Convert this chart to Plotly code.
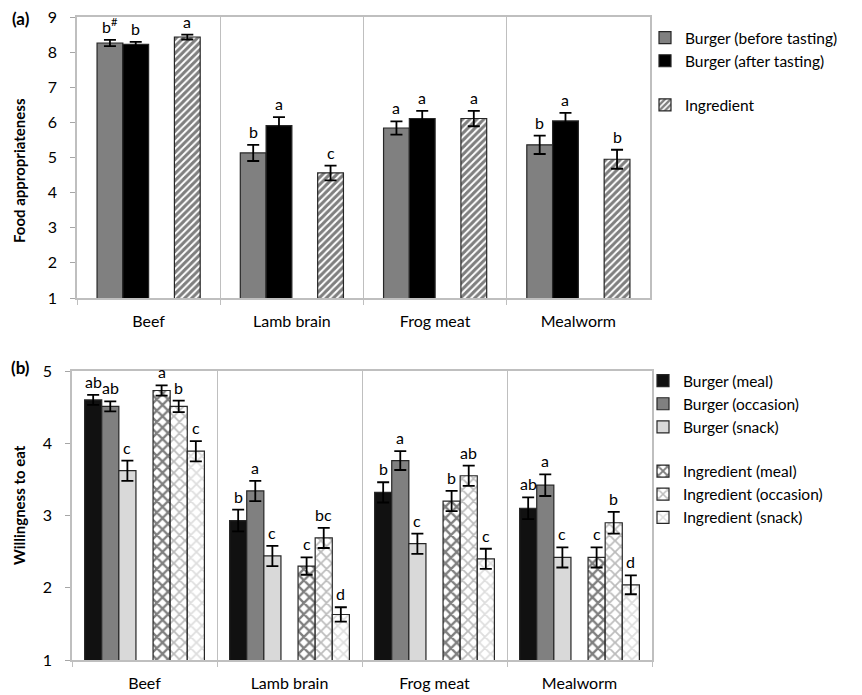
import plotly.graph_objects as go

categories = ["Beef", "Lamb brain", "Frog meat", "Mealworm"]

# (a) Food appropriateness (mean, standard error, significance letters)
fa_before = [8.26, 5.13, 5.84, 5.36]
fa_before_err = [0.09, 0.23, 0.19, 0.26]
fa_before_letters = ["b<sup>#</sup>", "b", "a", "b"]

fa_after = [8.22, 5.91, 6.11, 6.04]
fa_after_err = [0.07, 0.24, 0.22, 0.23]
fa_after_letters = ["b", "a", "a", "a"]

fa_ingredient = [8.43, 4.56, 6.11, 4.95]
fa_ingredient_err = [0.07, 0.21, 0.22, 0.27]
fa_ingredient_letters = ["a", "c", "a", "b"]

# (b) Willingness to eat
wte_burger_meal = [4.60, 2.93, 3.32, 3.10]
wte_burger_meal_err = [0.07, 0.15, 0.14, 0.15]
wte_burger_meal_letters = ["ab", "b", "b", "ab"]

wte_burger_occasion = [4.51, 3.34, 3.76, 3.42]
wte_burger_occasion_err = [0.07, 0.14, 0.13, 0.15]
wte_burger_occasion_letters = ["ab", "a", "a", "a"]

wte_burger_snack = [3.62, 2.44, 2.61, 2.42]
wte_burger_snack_err = [0.14, 0.14, 0.14, 0.14]
wte_burger_snack_letters = ["c", "c", "c", "c"]

wte_ing_meal = [4.73, 2.30, 3.20, 2.42]
wte_ing_meal_err = [0.07, 0.12, 0.14, 0.14]
wte_ing_meal_letters = ["a", "c", "b", "c"]

wte_ing_occasion = [4.51, 2.69, 3.55, 2.90]
wte_ing_occasion_err = [0.08, 0.14, 0.14, 0.15]
wte_ing_occasion_letters = ["b", "bc", "ab", "b"]

wte_ing_snack = [3.89, 1.63, 2.40, 2.04]
wte_ing_snack_err = [0.14, 0.10, 0.14, 0.13]
wte_ing_snack_letters = ["c", "d", "c", "d"]

W, H = 862, 695
FONT = "Lato"
GRID = "#bfbfbf"
TXT = "#000000"


def px(v):
    return v / W


def py(v):
    return 1 - v / H


fig = go.Figure()
annotations = []


def add_series(name, values, errors, letters, slot, slot_w, start, xa, ya,
               legend, group, color, pattern=None):
    offset = start + slot * slot_w
    marker = dict(color=color, line=dict(color="#262626", width=1.2))
    if pattern is not None:
        marker["pattern"] = pattern
    fig.add_trace(go.Bar(
        name=name, x=categories, y=values,
        offset=offset, width=slot_w,
        marker=marker,
        error_y=dict(type="data", array=errors, visible=True,
                     color="#000000", thickness=1.8, width=6),
        xaxis=xa, yaxis=ya, legend=legend, legendgroup=group,
    ))
    for i, (v, e, t) in enumerate(zip(values, errors, letters)):
        annotations.append(dict(
            x=i + offset + slot_w / 2, y=v + e, xref=xa, yref=ya,
            text=t, showarrow=False, yanchor="bottom", yshift=2,
            font=dict(family=FONT, size=16, color=TXT),
        ))


# panel (a): four slots per category, the third one left empty
A_SLOT, A_START = 0.18, -0.36
add_series("Burger (before tasting)", fa_before, fa_before_err, fa_before_letters,
           0, A_SLOT, A_START, "x", "y", "legend", "burger", "#808080")
add_series("Burger (after tasting)", fa_after, fa_after_err, fa_after_letters,
           1, A_SLOT, A_START, "x", "y", "legend", "burger", "#000000")
add_series("Ingredient", fa_ingredient, fa_ingredient_err, fa_ingredient_letters,
           3, A_SLOT, A_START, "x", "y", "legend", "ingredient", "#ffffff",
           dict(shape="/", fgcolor="#000000", bgcolor="#ffffff", size=5, solidity=0.6))

# panel (b): seven slots per category, the fourth one left empty
B_SLOT, B_START = 0.118, -0.413
add_series("Burger (meal)", wte_burger_meal, wte_burger_meal_err, wte_burger_meal_letters,
           0, B_SLOT, B_START, "x2", "y2", "legend2", "burger2", "#111111")
add_series("Burger (occasion)", wte_burger_occasion, wte_burger_occasion_err,
           wte_burger_occasion_letters, 1, B_SLOT, B_START, "x2", "y2", "legend2",
           "burger2", "#808080")
add_series("Burger (snack)", wte_burger_snack, wte_burger_snack_err, wte_burger_snack_letters,
           2, B_SLOT, B_START, "x2", "y2", "legend2", "burger2", "#d9d9d9")
add_series("Ingredient (meal)", wte_ing_meal, wte_ing_meal_err, wte_ing_meal_letters,
           4, B_SLOT, B_START, "x2", "y2", "legend2", "ingredient2", "#ffffff",
           dict(shape="x", fgcolor="#000000", bgcolor="#ffffff", size=8, solidity=0.5))
add_series("Ingredient (occasion)", wte_ing_occasion, wte_ing_occasion_err,
           wte_ing_occasion_letters, 5, B_SLOT, B_START, "x2", "y2", "legend2",
           "ingredient2", "#ffffff",
           dict(shape="x", fgcolor="#7a7a7a", bgcolor="#ffffff", size=8, solidity=0.4))
add_series("Ingredient (snack)", wte_ing_snack, wte_ing_snack_err, wte_ing_snack_letters,
           6, B_SLOT, B_START, "x2", "y2", "legend2", "ingredient2", "#ffffff",
           dict(shape="x", fgcolor="#bdbdbd", bgcolor="#ffffff", size=8, solidity=0.4))

# panel labels and axis titles
annotations += [
    dict(x=px(32), y=py(18), xref="paper", yref="paper", text="(a)", showarrow=False,
         xanchor="right", yanchor="middle",
         font=dict(family=FONT, size=17, color=TXT, weight="bold")),
    dict(x=px(32), y=py(367), xref="paper", yref="paper", text="(b)", showarrow=False,
         xanchor="right", yanchor="middle",
         font=dict(family=FONT, size=17, color=TXT, weight="bold")),
    dict(x=px(19), y=py(171), xref="paper", yref="paper", text="Food appropriateness",
         showarrow=False, textangle=-90, xanchor="center", yanchor="middle",
         font=dict(family=FONT, size=15, color=TXT, weight="bold")),
    dict(x=px(19), y=py(505), xref="paper", yref="paper", text="Willingness to eat",
         showarrow=False, textangle=-90, xanchor="center", yanchor="middle",
         font=dict(family=FONT, size=15, color=TXT, weight="bold")),
]

xaxis_common = dict(
    type="category", categoryorder="array", categoryarray=categories,
    range=[-0.5, 3.5], tickson="boundaries", ticks="outside", ticklen=5,
    tickcolor=GRID, tickwidth=1.3, showgrid=True, gridcolor=GRID, gridwidth=1.3,
    showline=True, linecolor=GRID, linewidth=1.5, mirror=True,
    automargin=False, ticklabelstandoff=8,
    tickfont=dict(family=FONT, size=16, color=TXT),
)
yaxis_common = dict(
    ticks="outside", ticklen=5, tickcolor="#a6a6a6", tickwidth=1.3, dtick=1,
    showgrid=False, zeroline=False, showline=True, linecolor=GRID, linewidth=1.5,
    mirror=True, automargin=False, ticklabelstandoff=10,
    tickfont=dict(family=FONT, size=16, color=TXT),
)

legend_common = dict(
    xanchor="left", yanchor="top", traceorder="grouped", tracegroupgap=21,
    bgcolor="rgba(0,0,0,0)", itemwidth=30, itemclick=False,
    font=dict(family=FONT, size=15.5, color=TXT),
)

fig.update_layout(
    width=W, height=H,
    margin=dict(l=0, r=0, t=0, b=0),
    paper_bgcolor="#ffffff", plot_bgcolor="#ffffff",
    barmode="overlay",
    font=dict(family=FONT, color=TXT),
    xaxis=dict(domain=[px(77), px(650)], anchor="y", **xaxis_common),
    yaxis=dict(domain=[py(298), py(17)], anchor="x", range=[1, 9], **yaxis_common),
    xaxis2=dict(domain=[px(72), px(652)], anchor="y2", **xaxis_common),
    yaxis2=dict(domain=[py(660), py(371)], anchor="x2", range=[1, 5], **yaxis_common),
    legend=dict(x=px(645), y=py(21), **legend_common),
    legend2=dict(x=px(643), y=py(364), **legend_common),
    annotations=annotations,
    showlegend=True,
)

fig.write_html("out.html")
